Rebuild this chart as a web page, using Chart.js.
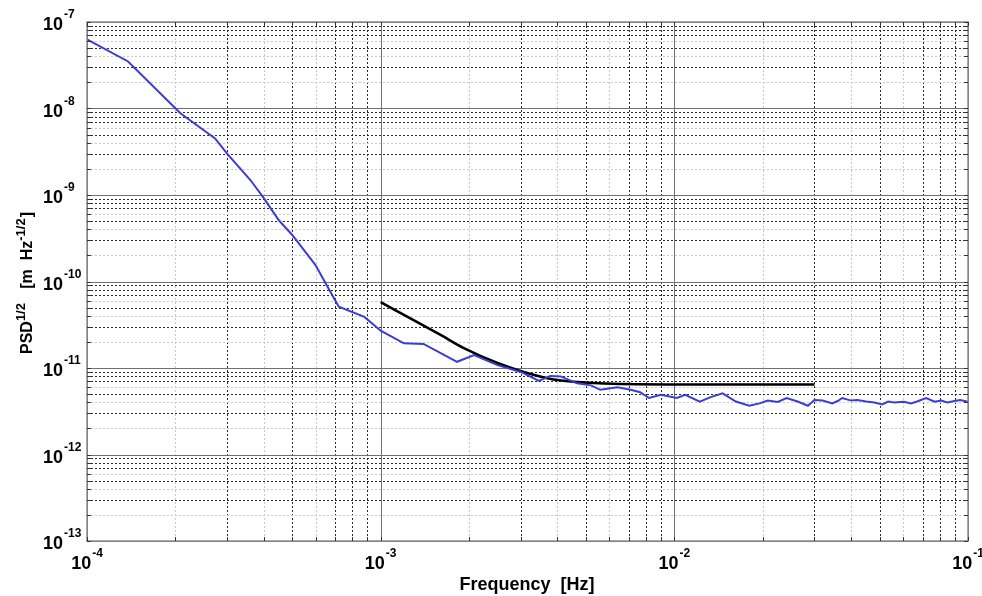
<!DOCTYPE html>
<html>
<head>
<meta charset="utf-8">
<script src="https://cdn.jsdelivr.net/npm/chart.js@4.4.1/dist/chart.umd.min.js"></script>
<style>
  html, body { margin: 0; padding: 0; background: #ffffff; }
  #wrap { width: 982px; height: 596px; }
</style>
</head>
<body>
<div id="wrap"><canvas id="c" width="982" height="596"></canvas></div>
<script>
// ---- data ----
const blueFreq = [1.00e-4, 1.38e-4, 2.08e-4, 2.73e-4, 3.0e-4, 3.6e-4, 4.0e-4, 4.5e-4, 5.0e-4, 6.0e-4,
  6.5e-4, 7.2e-4, 8.8e-4, 1.0e-3, 1.2e-3, 1.4e-3, 1.82e-3, 2.08e-3, 2.5e-3, 3.0e-3,
  3.46e-3, 3.78e-3, 4.1e-3, 4.67e-3, 5.2e-3, 5.6e-3, 6.4e-3, 7.1e-3, 7.65e-3, 8.2e-3,
  9.0e-3, 1.02e-2, 1.09e-2, 1.22e-2, 1.33e-2, 1.46e-2, 1.62e-2, 1.8e-2, 1.95e-2, 2.08e-2, 2.25e-2, 2.41e-2,
  2.63e-2, 2.85e-2, 3.0e-2, 3.2e-2, 3.45e-2, 3.6e-2, 3.73e-2, 4.0e-2, 4.2e-2, 4.5e-2, 4.8e-2, 5.1e-2, 5.35e-2, 5.6e-2,
  6.05e-2, 6.4e-2, 6.7e-2, 7.2e-2, 7.7e-2, 8.1e-2, 8.5e-2, 9.0e-2, 9.4e-2, 1.0e-1];
const blueValue = [6.3e-8, 3.5e-8, 8.8e-9, 4.5e-9, 3.0e-9, 1.49e-9, 9.2e-10, 5.1e-10, 3.45e-10, 1.55e-10,
  9.5e-11, 5.1e-11, 3.9e-11, 2.7e-11, 1.93e-11, 1.9e-11, 1.18e-11, 1.41e-11, 1.08e-11, 9.0e-12,
  7.1e-12, 8.1e-12, 8.0e-12, 6.65e-12, 6.3e-12, 5.6e-12, 6.0e-12, 5.6e-12, 5.25e-12, 4.5e-12,
  4.9e-12, 4.5e-12, 4.9e-12, 4.07e-12, 4.6e-12, 5.1e-12, 4.1e-12, 3.66e-12, 3.9e-12, 4.2e-12, 4.05e-12, 4.5e-12,
  4.1e-12, 3.66e-12, 4.27e-12, 4.2e-12, 3.9e-12, 4.15e-12, 4.5e-12, 4.2e-12, 4.27e-12, 4.1e-12, 4.0e-12, 3.8e-12, 4.1e-12, 4.0e-12,
  4.07e-12, 3.9e-12, 4.1e-12, 4.5e-12, 4.07e-12, 4.2e-12, 4.0e-12, 4.15e-12, 4.27e-12, 4.07e-12];

const blackFreq = [1.0e-3, 1.29e-3, 1.6e-3, 1.92e-3, 2.5e-3, 3.03e-3, 3.88e-3, 5.1e-3, 6.58e-3, 1.23e-2, 3.0e-2];
const blackValue = [5.79e-11, 3.59e-11, 2.41e-11, 1.70e-11, 1.14e-11, 9.12e-12, 7.37e-12, 6.76e-12, 6.53e-12, 6.45e-12, 6.45e-12];

// tick labels (decade exponents)
const xDecades = [-4, -3, -2, -1];
const yDecades = [-13, -12, -11, -10, -9, -8, -7];
const minorMult = [2, 3, 4, 5, 6, 7, 8, 9];
const lightMult = [2, 4, 6];

const xTitle = 'Frequency  [Hz]';
const yTitleParts = [
  { t: 'PSD', sup: false },
  { t: '1/2', sup: true },
  { t: '   [m  Hz', sup: false },
  { t: '-1/2', sup: true },
  { t: ']', sup: false }
];

const FONT = '"Liberation Sans", Arial, Helvetica, sans-serif';

function toPoints(xs, ys) { return xs.map((x, i) => ({ x: x, y: ys[i] })); }

const matlabAxes = {
  id: 'matlabAxes',
  beforeDraw(chart) {
    const ctx = chart.ctx;
    ctx.save();
    ctx.fillStyle = '#ffffff';
    ctx.fillRect(0, 0, chart.width, chart.height);
    ctx.restore();
  },
  beforeDatasetsDraw(chart) {
    const ctx = chart.ctx, a = chart.chartArea;
    const xs = chart.scales.x, ys = chart.scales.y;
    ctx.save();
    ctx.lineWidth = 1;
    const minorLine = (isX, v, m) => {
      ctx.strokeStyle = lightMult.includes(m) ? '#c8c8c8' : '#2a2a2a';
      ctx.setLineDash([2, 2]);
      ctx.beginPath();
      if (isX) {
        const p = Math.round(xs.getPixelForValue(v)) + 0.5;
        ctx.moveTo(p, a.top); ctx.lineTo(p, a.bottom);
      } else {
        const p = Math.round(ys.getPixelForValue(v)) + 0.5;
        ctx.moveTo(a.left, p); ctx.lineTo(a.right, p);
      }
      ctx.stroke();
    };
    xDecades.slice(0, -1).forEach(e => minorMult.forEach(m => minorLine(true, m * Math.pow(10, e), m)));
    yDecades.slice(0, -1).forEach(e => minorMult.forEach(m => minorLine(false, m * Math.pow(10, e), m)));
    ctx.setLineDash([]);
    ctx.strokeStyle = '#707070';
    xDecades.forEach(e => {
      const p = Math.round(xs.getPixelForValue(Math.pow(10, e))) + 0.5;
      ctx.beginPath(); ctx.moveTo(p, a.top); ctx.lineTo(p, a.bottom); ctx.stroke();
    });
    yDecades.forEach(e => {
      const p = Math.round(ys.getPixelForValue(Math.pow(10, e))) + 0.5;
      ctx.beginPath(); ctx.moveTo(a.left, p); ctx.lineTo(a.right, p); ctx.stroke();
    });
    ctx.restore();
  },
  afterDatasetsDraw(chart) {
    const ctx = chart.ctx, a = chart.chartArea;
    const xs = chart.scales.x, ys = chart.scales.y;
    ctx.save();
    ctx.setLineDash([]);
    ctx.lineWidth = 1.5;
    ctx.strokeStyle = '#8c8c8c';
    ctx.strokeRect(a.left, a.top, a.right - a.left, a.bottom - a.top);
    ctx.lineWidth = 1;
    ctx.strokeStyle = '#333333';
    const allX = [], allY = [];
    xDecades.forEach((e, i) => {
      allX.push(Math.pow(10, e));
      if (i < xDecades.length - 1) minorMult.forEach(m => allX.push(m * Math.pow(10, e)));
    });
    yDecades.forEach((e, i) => {
      allY.push(Math.pow(10, e));
      if (i < yDecades.length - 1) minorMult.forEach(m => allY.push(m * Math.pow(10, e)));
    });
    allX.forEach(v => {
      const p = Math.round(xs.getPixelForValue(v)) + 0.5;
      ctx.beginPath();
      ctx.moveTo(p, a.bottom); ctx.lineTo(p, a.bottom - 4);
      ctx.moveTo(p, a.top); ctx.lineTo(p, a.top + 4);
      ctx.stroke();
    });
    allY.forEach(v => {
      const p = Math.round(ys.getPixelForValue(v)) + 0.5;
      ctx.beginPath();
      ctx.moveTo(a.left, p); ctx.lineTo(a.left + 4, p);
      ctx.moveTo(a.right, p); ctx.lineTo(a.right - 4, p);
      ctx.stroke();
    });

    ctx.fillStyle = '#000000';
    ctx.textBaseline = 'alphabetic';
    ctx.textAlign = 'left';
    const big = 'bold 18px ' + FONT, small = 'bold 12px ' + FONT;
    yDecades.forEach(e => {
      const p = ys.getPixelForValue(Math.pow(10, e));
      ctx.font = big;
      ctx.fillText('10', 43, p + 8);
      const w = ctx.measureText('10').width;
      ctx.font = small;
      ctx.fillText(String(e), 43 + w + 1, p - 4);
    });
    xDecades.forEach(e => {
      const p = xs.getPixelForValue(Math.pow(10, e));
      ctx.font = big;
      const w1 = ctx.measureText('10').width;
      ctx.font = small;
      const w2 = ctx.measureText(String(e)).width;
      const start = p - (w1 + 1 + w2) / 2;
      ctx.font = big;
      ctx.fillText('10', start, 569);
      ctx.font = small;
      ctx.fillText(String(e), start + w1 + 1, 557);
    });

    ctx.font = 'bold 18px ' + FONT;
    ctx.textAlign = 'center';
    ctx.fillText(xTitle, 527, 590);

    ctx.translate(32, 284);
    ctx.rotate(-Math.PI / 2);
    ctx.textAlign = 'left';
    const fontFor = p => p.sup ? 'bold 13px ' + FONT : 'bold 16px ' + FONT;
    let total = 0;
    yTitleParts.forEach(p => { ctx.font = fontFor(p); total += ctx.measureText(p.t).width; });
    let x = -total / 2;
    yTitleParts.forEach(p => {
      ctx.font = fontFor(p);
      ctx.fillText(p.t, x, p.sup ? -7 : 0);
      x += ctx.measureText(p.t).width + (p.sup ? 1 : 0);
    });
    ctx.restore();
  }
};

new Chart(document.getElementById('c'), {
  type: 'line',
  data: {
    datasets: [
      {
        label: 'PSD',
        data: toPoints(blueFreq, blueValue),
        borderColor: '#3c3cd6',
        borderWidth: 2,
        pointRadius: 0,
        tension: 0,
        fill: false
      },
      {
        label: 'Model',
        data: toPoints(blackFreq, blackValue),
        borderColor: '#000000',
        borderWidth: 2.6,
        pointRadius: 0,
        cubicInterpolationMode: 'monotone',
        fill: false
      }
    ]
  },
  options: {
    responsive: false,
    animation: false,
    devicePixelRatio: 1,
    layout: { padding: { left: 87, right: 14, top: 22, bottom: 55 } },
    plugins: { legend: { display: false }, tooltip: { enabled: false } },
    scales: {
      x: { type: 'logarithmic', min: 1e-4, max: 1e-1, display: false },
      y: { type: 'logarithmic', min: 1e-13, max: 1e-7, display: false }
    }
  },
  plugins: [matlabAxes]
});
</script>
</body>
</html>
